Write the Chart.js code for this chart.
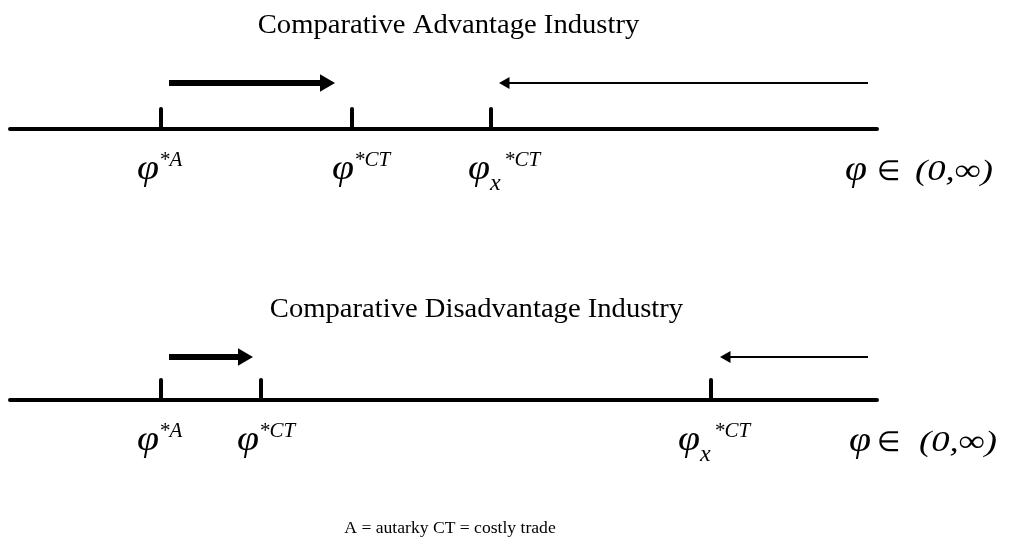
<!DOCTYPE html>
<html lang="en">
<head>
  <meta charset="UTF-8">
  <title>Comparative Advantage / Disadvantage cutoffs</title>
  <script src="https://cdn.jsdelivr.net/npm/chart.js"></script>
  <style>
    body { margin: 0; background: #fff; }
    canvas { display: block; }
  </style>
</head>
<body>
  <canvas id="chart" width="1009" height="551"></canvas>

  <script>
    // one productivity axis per industry
    const panels = ['Comparative Advantage Industry', 'Comparative Disadvantage Industry'];
    const axisY = [129, 400];
    const axisStart = [10, 10];
    const axisEnd = [877, 877];

    // cutoffs: autarky, costly trade, exporting
    const cutA = [161, 161];
    const cutCT = [352, 261];
    const cutX = [491, 711];

    // thick arrow: autarky cutoff moves up; thin arrow: export cutoff moves down
    const thickFrom = [169, 169];
    const thickTo = [335, 253];
    const thinFrom = [868, 868];
    const thinTo = [499, 720];

    const footnote = 'A = autarky CT = costly trade';

    const SERIF = '"Liberation Serif", "Times New Roman", serif';
    const TICK_LEN = 20;
    const ARROW_RISE = [46, 43];

    function seg(x1, y1, x2, y2) {
      return [{ x: x1, y: y1 }, { x: x2, y: y2 }];
    }

    const datasets = [];
    panels.forEach((p, i) => {
      const y = axisY[i];
      // axis
      datasets.push({
        data: seg(axisStart[i], y, axisEnd[i], y),
        showLine: true, borderColor: '#000', borderWidth: 4,
        borderCapStyle: 'round', pointRadius: 0
      });
      // cutoff ticks
      [cutA[i], cutCT[i], cutX[i]].forEach(c => {
        datasets.push({
          data: seg(c, y, c, y - TICK_LEN),
          showLine: true, borderColor: '#000', borderWidth: 4,
          borderCapStyle: 'round', pointRadius: 0
        });
      });
      // thick arrow to the right
      const ay = y - ARROW_RISE[i];
      datasets.push({
        data: seg(thickFrom[i], ay, thickTo[i] - 10, ay),
        showLine: true, borderColor: '#000', borderWidth: 6,
        pointRadius: [0, 10], pointStyle: 'triangle', pointRotation: 90,
        pointBackgroundColor: '#000', pointBorderWidth: 0
      });
      // thin arrow to the left
      datasets.push({
        data: seg(thinFrom[i], ay, thinTo[i] + 7, ay),
        showLine: true, borderColor: '#000', borderWidth: 2,
        pointRadius: [0, 7], pointStyle: 'triangle', pointRotation: -90,
        pointBackgroundColor: '#000', pointBorderWidth: 0
      });
    });

    // draw a string, optionally squeezed/stretched horizontally
    function txt(ctx, s, x, y, size, opt) {
      opt = opt || {};
      ctx.save();
      ctx.font = (opt.italic ? 'italic ' : '') + size + 'px ' + SERIF;
      ctx.fillStyle = '#000';
      ctx.textBaseline = 'alphabetic';
      const w = ctx.measureText(s).width;
      let sx = opt.sx || 1;
      if (opt.fit) sx = opt.fit / w;
      let x0 = x;
      if (opt.align === 'center') x0 = x - w * sx / 2;
      ctx.translate(x0, y);
      ctx.scale(sx, 1);
      ctx.fillText(s, 0, 0);
      ctx.restore();
      return x0 + w * sx;
    }

    function phi(ctx, left, base) {
      return txt(ctx, 'φ', left, base, 36, { italic: true, fit: 22 });
    }

    function phiLabel(ctx, left, base, sup, sub) {
      let x1 = phi(ctx, left, base);
      if (sub) {
        txt(ctx, sub, x1, base + 11, 24, { italic: true });
        x1 += 14;
      }
      txt(ctx, sup, x1, base - 13, 21, { italic: true });
    }

    const labelDx = [[-24, -20, -23], [-24, -24, -33]];

    const textPlugin = {
      id: 'diagramText',
      afterDraw(chart) {
        const ctx = chart.ctx;
        const sx = chart.scales.x, sy = chart.scales.y;
        panels.forEach((title, i) => {
          const y = sy.getPixelForValue(axisY[i]);
          const mid = (sx.getPixelForValue(axisStart[i]) + sx.getPixelForValue(axisEnd[i])) / 2;
          txt(ctx, title, mid + 5 + i * 28, y - (i === 0 ? 96 : 83), 27, { align: 'center', sx: 1.06 });
          const base = y + 50;
          phiLabel(ctx, sx.getPixelForValue(cutA[i]) + labelDx[i][0], base, '*A');
          phiLabel(ctx, sx.getPixelForValue(cutCT[i]) + labelDx[i][1], base, '*CT');
          phiLabel(ctx, sx.getPixelForValue(cutX[i]) + labelDx[i][2], base, '*CT', 'x');
          const ex = sx.getPixelForValue(axisEnd[i]);
          phi(ctx, ex - 32 + i * 4, base + 1);
          txt(ctx, '∈', ex, base + 1, 28, { fit: 23 });
          txt(ctx, '(0,∞)', ex + 38 + i * 4, base + 1, 30, { italic: true, fit: 78 });
        });
        txt(ctx, footnote, 450, 533, 16, { align: 'center', sx: 1.1 });
      }
    };

    new Chart(document.getElementById('chart'), {
      type: 'scatter',
      data: { datasets: datasets },
      options: {
        responsive: false,
        animation: false,
        events: [],
        layout: { padding: 0, autoPadding: false },
        plugins: { legend: { display: false }, tooltip: { enabled: false } },
        scales: {
          x: { display: false, min: 0, max: 1009 },
          y: { display: false, min: 0, max: 551, reverse: true }
        }
      },
      plugins: [textPlugin]
    });
  </script>
</body>
</html>
